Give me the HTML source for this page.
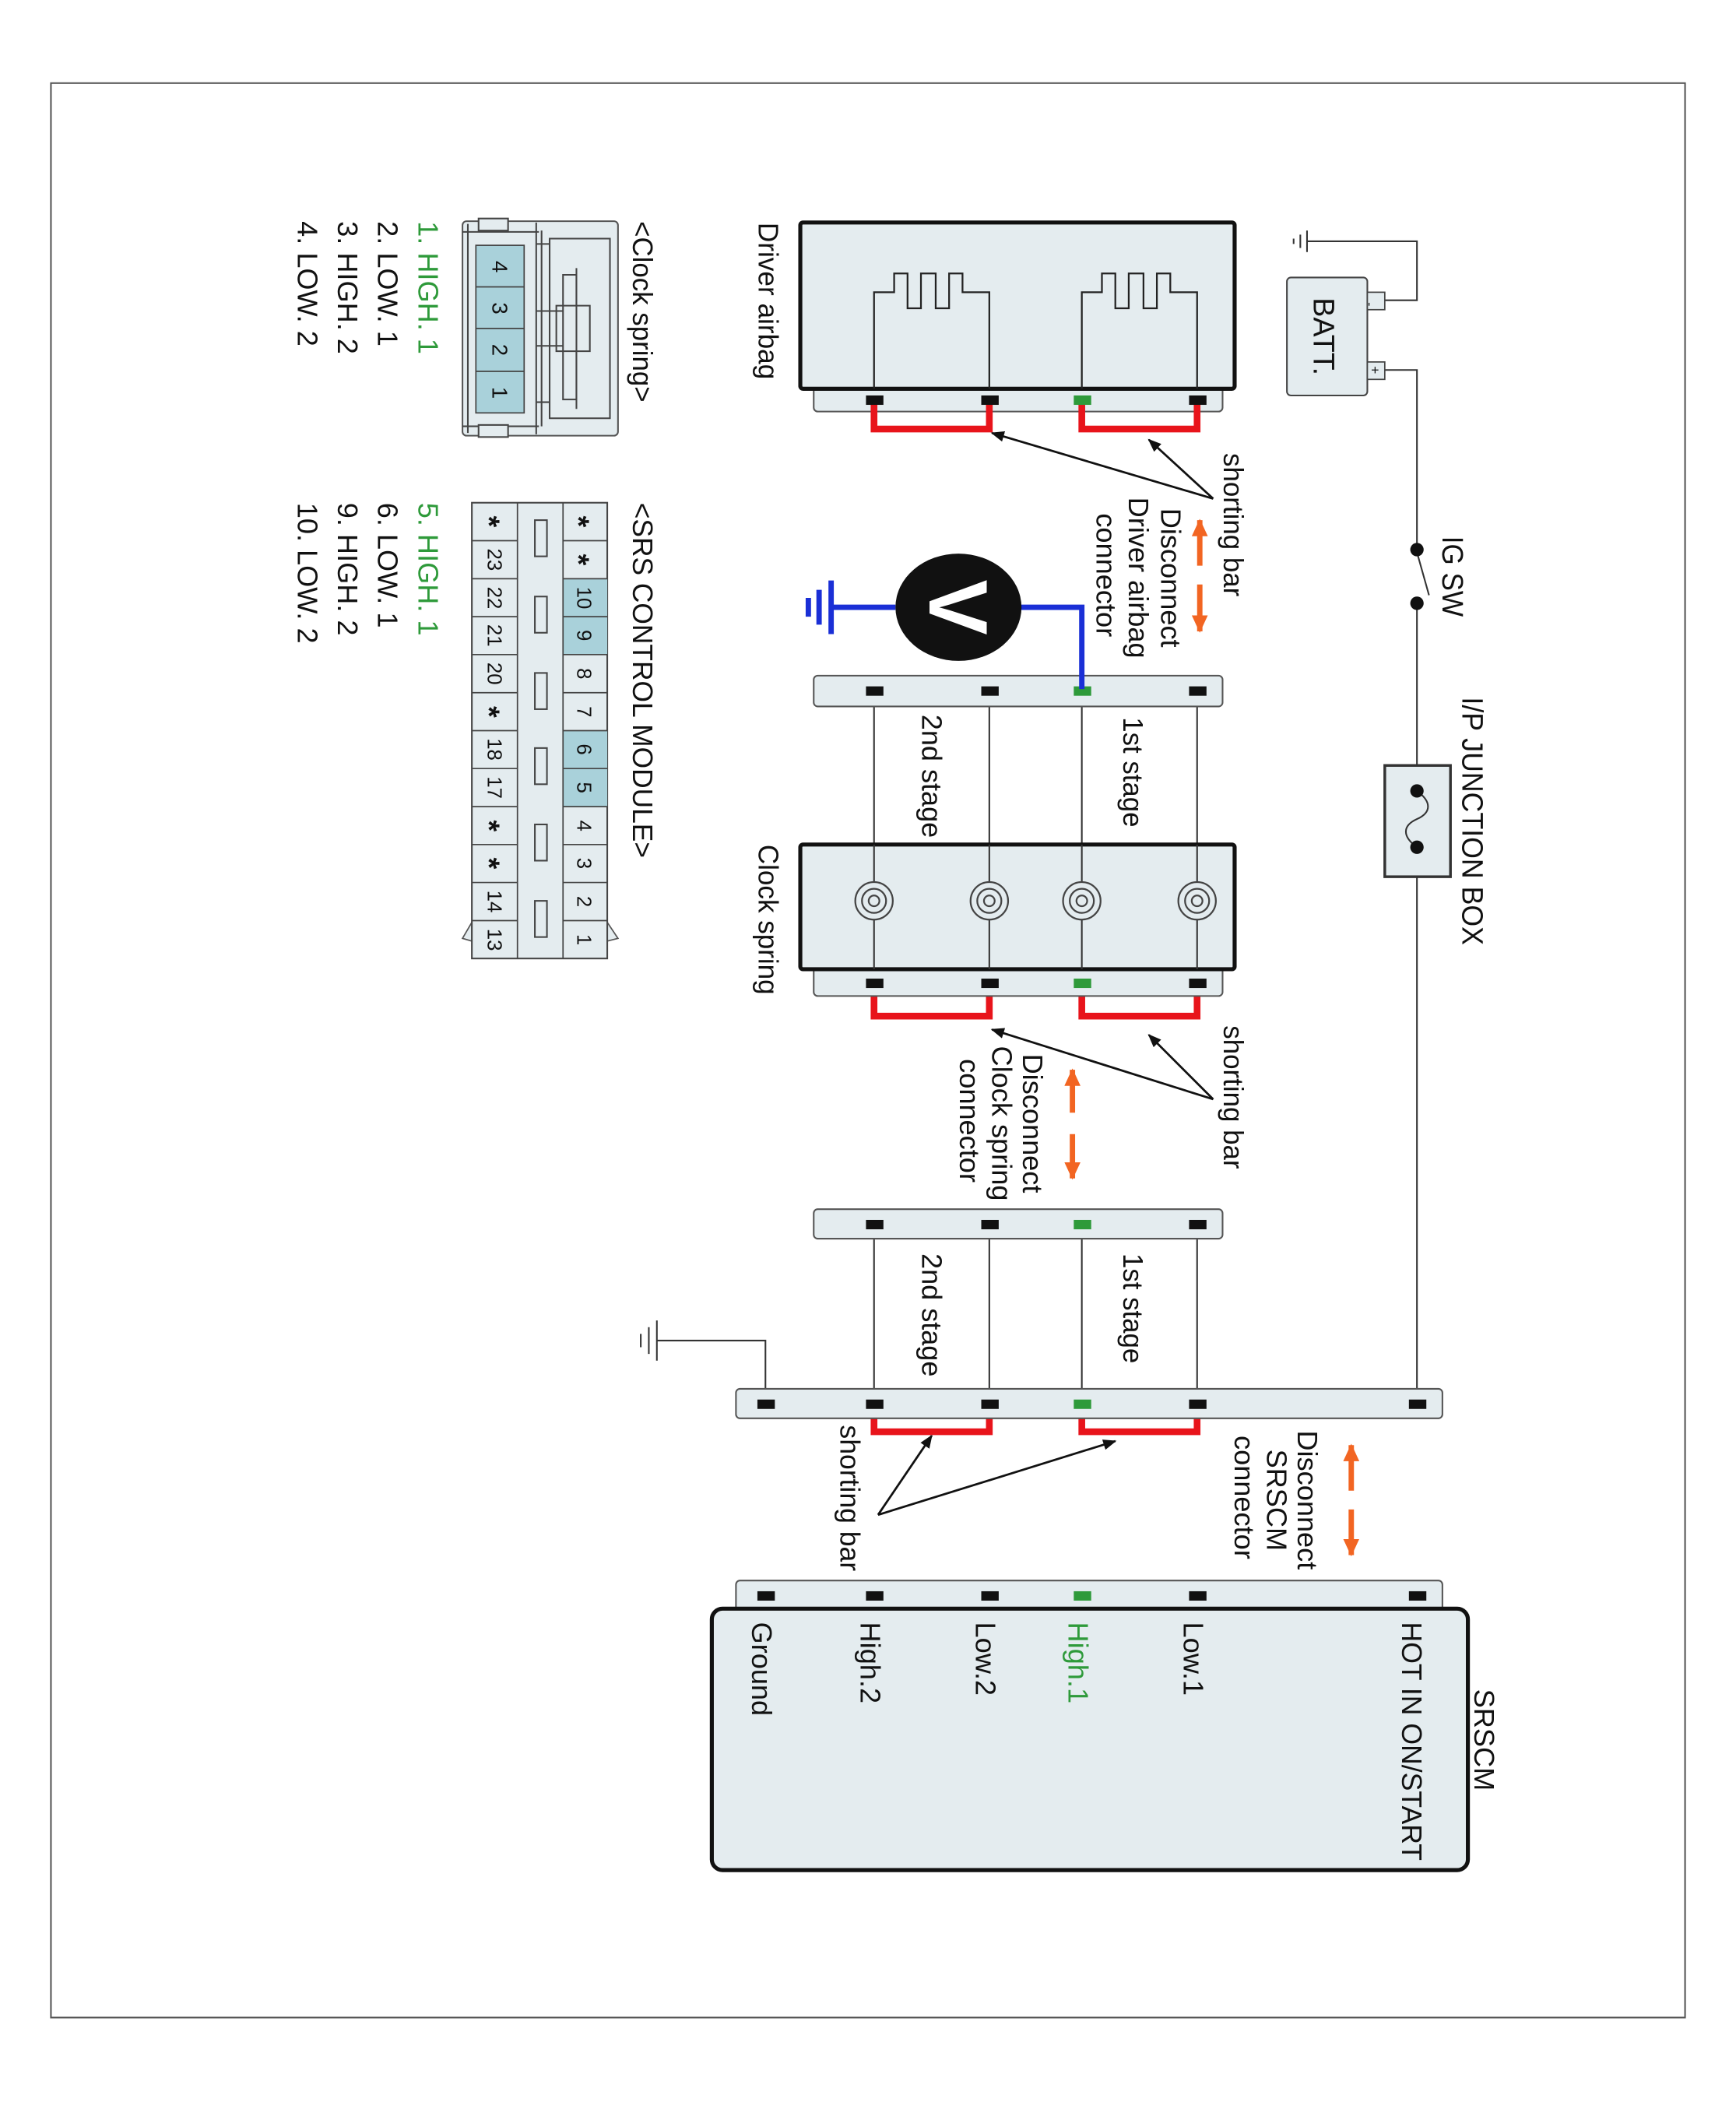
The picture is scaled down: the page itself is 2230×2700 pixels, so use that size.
<!DOCTYPE html>
<html><head><meta charset="utf-8"><style>
html,body{margin:0;padding:0;background:#fff;}
svg{display:block;}
text{font-family:"Liberation Sans",sans-serif;fill:#111;}
</style></head><body>
<svg width="2230" height="2700" viewBox="0 0 1295 1568" preserveAspectRatio="none" xmlns="http://www.w3.org/2000/svg">
<defs>
<marker id="ah" markerWidth="10" markerHeight="8" refX="9" refY="4" orient="auto" markerUnits="userSpaceOnUse"><path d="M0,0 L10,4 L0,8 Z" fill="#111"/></marker>
<marker id="oa" markerWidth="14" markerHeight="12" refX="12" refY="6" orient="auto" markerUnits="userSpaceOnUse"><path d="M0,0 L13,6 L0,12 Z" fill="#f26522"/></marker>
</defs>
<rect x="38" y="62" width="1219" height="1443" fill="none" stroke="#555" stroke-width="1.2"/>

<!-- battery & supply -->
<g stroke="#333" stroke-width="1.2" fill="none">
<path d="M1033,224 H1057 V180 H975"/>
<path d="M975,172 V188 M970,175 V185 M965,178 V182"/>
<path d="M1033,276 H1057 V410"/>
<path d="M1057,450 V590"/>
<path d="M1057,632 V1047"/>
<path d="M1057,412 L1066,444"/>
</g>
<rect x="960" y="207" width="60" height="88" rx="3" fill="#e4ecef" stroke="#444" stroke-width="1.2"/>
<rect x="1020" y="218" width="13" height="13" fill="#e4ecef" stroke="#444"/>
<rect x="1020" y="270" width="13" height="13" fill="#e4ecef" stroke="#444"/>
<text transform="translate(1022,227) rotate(90)" font-size="9" text-anchor="middle" dy=".35em">-</text>
<text transform="translate(1026,276) rotate(90)" font-size="10" text-anchor="middle" dy=".35em">+</text>
<text transform="translate(980,222) rotate(90)" font-size="22" textLength="58" lengthAdjust="spacingAndGlyphs">BATT.</text>
<circle cx="1057" cy="410" r="5" fill="#111"/><circle cx="1057" cy="450" r="5" fill="#111"/>
<text transform="translate(1076,400) rotate(90)" font-size="22" textLength="60" lengthAdjust="spacingAndGlyphs">IG SW</text>
<rect x="1033" y="571" width="49" height="83" fill="#e4ecef" stroke="#333" stroke-width="2"/>
<path d="M1057,590 C1068,598 1068,606 1057,611 C1046,616 1046,624 1057,632" fill="none" stroke="#333" stroke-width="1.2"/>
<circle cx="1057" cy="590" r="5" fill="#111"/><circle cx="1057" cy="632" r="5" fill="#111"/>
<text transform="translate(1091,520) rotate(90)" font-size="22" textLength="185" lengthAdjust="spacingAndGlyphs">I/P JUNCTION BOX</text>

<!-- Driver airbag -->
<rect x="607" y="285" width="305" height="22" rx="3" fill="#e4ecef" stroke="#555" stroke-width="1.2"/>
<rect x="597" y="166" width="324" height="124" rx="2" fill="#e4ecef" stroke="#111" stroke-width="3"/>
<g stroke="#222" stroke-width="1.3" fill="none">
<path d="M652,290 V218 H667 V204 H677 V230 H687 V204 H698 V230 H708 V204 H718 V218 H738 V290"/>
<path d="M807,290 V218 H822 V204 H832 V230 H842 V204 H853 V230 H863 V204 H873 V218 H893 V290"/>
</g>
<text transform="translate(566,166) rotate(90)" font-size="21" textLength="117" lengthAdjust="spacingAndGlyphs">Driver airbag</text>

<!-- wires between connectors -->
<g stroke="#333" stroke-width="1.2">
<path d="M652,515 V733 M738,515 V733 M807,515 V733 M893,515 V733"/>
<path d="M652,913 V1047 M738,913 V1047 M807,913 V1047 M893,913 V1047"/>
<path d="M571,1047 V1000 H490 M490,985 V1015 M484,990 V1010 M478,995 V1005" fill="none"/>
</g>

<!-- red shorting bars -->
<g stroke="#e8141b" stroke-width="5" fill="none">
<path d="M652,299 V320 H738 V299"/><path d="M807,299 V320 H893 V299"/>
<path d="M652,735 V758 H738 V735"/><path d="M807,735 V758 H893 V735"/>
<path d="M652,1049 V1068 H738 V1049"/><path d="M807,1049 V1068 H893 V1049"/>
</g>

<!-- connector strip 2 -->
<rect x="607" y="504" width="305" height="23" rx="3" fill="#e4ecef" stroke="#555" stroke-width="1.2"/>
<!-- Clock spring -->
<rect x="607" y="718" width="305" height="25" rx="3" fill="#e4ecef" stroke="#555" stroke-width="1.2"/>
<rect x="597" y="630" width="324" height="93" rx="2" fill="#e4ecef" stroke="#111" stroke-width="3"/>
<g stroke="#333" stroke-width="1.2" fill="none">
<path d="M652,630 V723 M738,630 V723 M807,630 V723 M893,630 V723"/>
</g>
<g stroke="#444" stroke-width="1.3" fill="#e4ecef">
<circle cx="652" cy="672" r="14"/><circle cx="652" cy="672" r="9" fill="none"/><circle cx="652" cy="672" r="4" fill="none"/>
<circle cx="738" cy="672" r="14"/><circle cx="738" cy="672" r="9" fill="none"/><circle cx="738" cy="672" r="4" fill="none"/>
<circle cx="807" cy="672" r="14"/><circle cx="807" cy="672" r="9" fill="none"/><circle cx="807" cy="672" r="4" fill="none"/>
<circle cx="893" cy="672" r="14"/><circle cx="893" cy="672" r="9" fill="none"/><circle cx="893" cy="672" r="4" fill="none"/>
</g>
<text transform="translate(566,630) rotate(90)" font-size="21" textLength="112" lengthAdjust="spacingAndGlyphs">Clock spring</text>

<!-- connector strip 3 -->
<rect x="607" y="902" width="305" height="22" rx="3" fill="#e4ecef" stroke="#555" stroke-width="1.2"/>
<!-- SRSCM strip -->
<rect x="549" y="1036" width="527" height="22" rx="3" fill="#e4ecef" stroke="#555" stroke-width="1.2"/>
<rect x="549" y="1179" width="527" height="25" rx="3" fill="#e4ecef" stroke="#555" stroke-width="1.2"/>
<rect x="531" y="1200" width="564" height="195" rx="8" fill="#e4ecef" stroke="#111" stroke-width="3"/>

<!-- pins -->
<g fill="#111">
<rect x="646" y="295" width="13" height="7"/><rect x="732" y="295" width="13" height="7"/><rect x="887" y="295" width="13" height="7"/>
<rect x="646" y="512" width="13" height="7"/><rect x="732" y="512" width="13" height="7"/><rect x="887" y="512" width="13" height="7"/>
<rect x="646" y="730" width="13" height="7"/><rect x="732" y="730" width="13" height="7"/><rect x="887" y="730" width="13" height="7"/>
<rect x="646" y="910" width="13" height="7"/><rect x="732" y="910" width="13" height="7"/><rect x="887" y="910" width="13" height="7"/>
<rect x="565" y="1044" width="13" height="7"/><rect x="646" y="1044" width="13" height="7"/><rect x="732" y="1044" width="13" height="7"/><rect x="887" y="1044" width="13" height="7"/><rect x="1051" y="1044" width="13" height="7"/>
<rect x="565" y="1187" width="13" height="7"/><rect x="646" y="1187" width="13" height="7"/><rect x="732" y="1187" width="13" height="7"/><rect x="887" y="1187" width="13" height="7"/><rect x="1051" y="1187" width="13" height="7"/>
</g>
<g fill="#2e9a3a">
<rect x="801" y="295" width="13" height="7"/><rect x="801" y="512" width="13" height="7"/><rect x="801" y="730" width="13" height="7"/>
<rect x="801" y="910" width="13" height="7"/><rect x="801" y="1044" width="13" height="7"/><rect x="801" y="1187" width="13" height="7"/>
</g>

<!-- voltmeter -->
<path d="M807,514 V453 H760 M668,453 H620" stroke="#1a2fd6" stroke-width="4" fill="none"/>
<path d="M620,433 V473 M611,440 V466 M603,446 V460" stroke="#1a2fd6" stroke-width="4"/>
<ellipse cx="715" cy="453" rx="47" ry="40" fill="#111"/>
<text transform="translate(715,453) rotate(90)" font-size="62" font-weight="bold" text-anchor="middle" dy=".35em" style="fill:#fff">V</text>

<!-- stage labels -->
<text transform="translate(838,535) rotate(90)" font-size="21" textLength="82" lengthAdjust="spacingAndGlyphs">1st stage</text>
<text transform="translate(688,533) rotate(90)" font-size="21" textLength="92" lengthAdjust="spacingAndGlyphs">2nd stage</text>
<text transform="translate(838,935) rotate(90)" font-size="21" textLength="82" lengthAdjust="spacingAndGlyphs">1st stage</text>
<text transform="translate(688,935) rotate(90)" font-size="21" textLength="92" lengthAdjust="spacingAndGlyphs">2nd stage</text>

<!-- shorting bar labels & arrows -->
<text transform="translate(913,338) rotate(90)" font-size="21" textLength="107" lengthAdjust="spacingAndGlyphs">shorting bar</text>
<g stroke="#111" stroke-width="1.6" marker-end="url(#ah)">
<line x1="905" y1="372" x2="740" y2="323"/><line x1="905" y1="372" x2="857" y2="328"/>
<line x1="905" y1="820" x2="740" y2="768"/><line x1="905" y1="820" x2="857" y2="772"/>
<line x1="655" y1="1130" x2="695" y2="1071"/><line x1="655" y1="1130" x2="832" y2="1075"/>
</g>
<text transform="translate(913,765) rotate(90)" font-size="21" textLength="107" lengthAdjust="spacingAndGlyphs">shorting bar</text>
<text transform="translate(627,1063) rotate(90)" font-size="21" textLength="109" lengthAdjust="spacingAndGlyphs">shorting bar</text>

<!-- disconnect groups -->
<g stroke="#f26522" stroke-width="4" marker-end="url(#oa)">
<line x1="895" y1="422" x2="895" y2="388"/><line x1="895" y1="436" x2="895" y2="471"/>
<line x1="800" y1="830" x2="800" y2="798"/><line x1="800" y1="846" x2="800" y2="879"/>
<line x1="1008" y1="1112" x2="1008" y2="1078"/><line x1="1008" y1="1126" x2="1008" y2="1160"/>
</g>
<g font-size="21" text-anchor="middle">
<text transform="translate(866,431) rotate(90)">Disconnect</text>
<text transform="translate(842,431) rotate(90)">Driver airbag</text>
<text transform="translate(818,429) rotate(90)">connector</text>
<text transform="translate(763,838) rotate(90)">Disconnect</text>
<text transform="translate(740,838) rotate(90)">Clock spring</text>
<text transform="translate(716,836) rotate(90)">connector</text>
<text transform="translate(968,1119) rotate(90)">Disconnect</text>
<text transform="translate(945,1119) rotate(90)">SRSCM</text>
<text transform="translate(921,1117) rotate(90)">connector</text>
</g>

<!-- SRSCM labels -->
<g font-size="21">
<text transform="translate(561,1210) rotate(90)">Ground</text>
<text transform="translate(642,1210) rotate(90)">High.2</text>
<text transform="translate(728,1210) rotate(90)">Low.2</text>
<text transform="translate(797,1210) rotate(90)" style="fill:#2e9a3a">High.1</text>
<text transform="translate(883,1210) rotate(90)">Low.1</text>
<text transform="translate(1046,1210) rotate(90)" textLength="178" lengthAdjust="spacingAndGlyphs">HOT IN ON/START</text>
<text transform="translate(1100,1260) rotate(90)">SRSCM</text>
</g>

<!-- Clock spring connector -->
<text transform="translate(472,165) rotate(90)" font-size="21" textLength="135" lengthAdjust="spacingAndGlyphs">&lt;Clock spring&gt;</text>
<rect x="345" y="165" width="116" height="160" rx="3" fill="#e4ecef" stroke="#555" stroke-width="1.2"/>
<g stroke="#444" stroke-width="1.2" fill="none">
<path d="M349,167 V323 M345,173 H402 M345,318 H402 M400,166 V324 M404,172 V318"/>
<rect x="357" y="163" width="22" height="9" fill="#e4ecef"/>
<rect x="357" y="317" width="22" height="9" fill="#e4ecef"/>
<path d="M400,182 H410 M400,232 H420 M400,258 H420 M400,300 H410"/>
<path d="M410,178 H455 V312 H410 Z"/>
<path d="M420,205 H430 V298 H420 Z"/>
<path d="M415,228 H440 V262 H415 Z"/>
<path d="M430,200 V228 M430,262 V305"/>
</g>
<rect x="355" y="183" width="36" height="125" fill="#a9d1da" stroke="#444" stroke-width="1"/>
<g stroke="#444" stroke-width="1"><path d="M355,214 H391 M355,245 H391 M355,277 H391"/></g>
<g font-size="16" text-anchor="middle">
<text transform="translate(373,199) rotate(90)" dy=".35em">4</text>
<text transform="translate(373,230) rotate(90)" dy=".35em">3</text>
<text transform="translate(373,261) rotate(90)" dy=".35em">2</text>
<text transform="translate(373,293) rotate(90)" dy=".35em">1</text>
</g>
<g font-size="21">
<text transform="translate(312,165) rotate(90)" style="fill:#2e9a3a">1. HIGH. 1</text>
<text transform="translate(282,165) rotate(90)">2. LOW. 1</text>
<text transform="translate(252,165) rotate(90)">3. HIGH. 2</text>
<text transform="translate(222,165) rotate(90)">4. LOW. 2</text>
<text transform="translate(312,375) rotate(90)" style="fill:#2e9a3a">5. HIGH. 1</text>
<text transform="translate(282,375) rotate(90)">6. LOW. 1</text>
<text transform="translate(252,375) rotate(90)">9. HIGH. 2</text>
<text transform="translate(222,375) rotate(90)">10. LOW. 2</text>
</g>

<!-- SRS control module table -->
<text transform="translate(472,375) rotate(90)" font-size="21" textLength="265" lengthAdjust="spacingAndGlyphs">&lt;SRS CONTROL MODULE&gt;</text>
<path d="M352,688 L345,700 L352,702 Z M453,688 L461,700 L453,702 Z" fill="#e4ecef" stroke="#555"/>
<rect x="352" y="375" width="101" height="340" fill="#e4ecef" stroke="#444" stroke-width="1.2"/>
<rect x="420" y="431.7" width="33" height="56.7" fill="#a9d1da"/>
<rect x="420" y="545" width="33" height="56.7" fill="#a9d1da"/>
<g stroke="#444" stroke-width="1">
<path d="M386,375 V715 M420,375 V715"/>
<path d="M352,403.3 H386 M420,403.3 H453 M352,431.7 H386 M420,431.7 H453 M352,460 H386 M420,460 H453 M352,488.3 H386 M420,488.3 H453 M352,516.7 H386 M420,516.7 H453 M352,545 H386 M420,545 H453 M352,573.3 H386 M420,573.3 H453 M352,601.7 H386 M420,601.7 H453 M352,630 H386 M420,630 H453 M352,658.3 H386 M420,658.3 H453 M352,686.7 H386 M420,686.7 H453"/>
</g>
<g fill="#e4ecef" stroke="#444" stroke-width="1.2">
<rect x="399" y="388" width="9" height="27"/><rect x="399" y="445" width="9" height="27"/><rect x="399" y="502" width="9" height="27"/>
<rect x="399" y="558" width="9" height="27"/><rect x="399" y="615" width="9" height="27"/><rect x="399" y="672" width="9" height="27"/>
</g>
<g font-size="15" text-anchor="middle">
<text transform="translate(432,389) rotate(90)" dy=".35em" font-size="22" font-weight="bold">*</text>
<text transform="translate(432,417.5) rotate(90)" dy=".35em" font-size="22" font-weight="bold">*</text>
<text transform="translate(436,446) rotate(90)" dy=".35em">10</text>
<text transform="translate(436,474) rotate(90)" dy=".35em">9</text>
<text transform="translate(436,502.5) rotate(90)" dy=".35em">8</text>
<text transform="translate(436,531) rotate(90)" dy=".35em">7</text>
<text transform="translate(436,559) rotate(90)" dy=".35em">6</text>
<text transform="translate(436,587.5) rotate(90)" dy=".35em">5</text>
<text transform="translate(436,616) rotate(90)" dy=".35em">4</text>
<text transform="translate(436,644) rotate(90)" dy=".35em">3</text>
<text transform="translate(436,672.5) rotate(90)" dy=".35em">2</text>
<text transform="translate(436,701) rotate(90)" dy=".35em">1</text>
<text transform="translate(365,389) rotate(90)" dy=".35em" font-size="22" font-weight="bold">*</text>
<text transform="translate(369,417.5) rotate(90)" dy=".35em">23</text>
<text transform="translate(369,446) rotate(90)" dy=".35em">22</text>
<text transform="translate(369,474) rotate(90)" dy=".35em">21</text>
<text transform="translate(369,502.5) rotate(90)" dy=".35em">20</text>
<text transform="translate(365,531) rotate(90)" dy=".35em" font-size="22" font-weight="bold">*</text>
<text transform="translate(369,559) rotate(90)" dy=".35em">18</text>
<text transform="translate(369,587.5) rotate(90)" dy=".35em">17</text>
<text transform="translate(365,616) rotate(90)" dy=".35em" font-size="22" font-weight="bold">*</text>
<text transform="translate(365,644) rotate(90)" dy=".35em" font-size="22" font-weight="bold">*</text>
<text transform="translate(369,672.5) rotate(90)" dy=".35em">14</text>
<text transform="translate(369,701) rotate(90)" dy=".35em">13</text>
</g>
</svg>
</body></html>
